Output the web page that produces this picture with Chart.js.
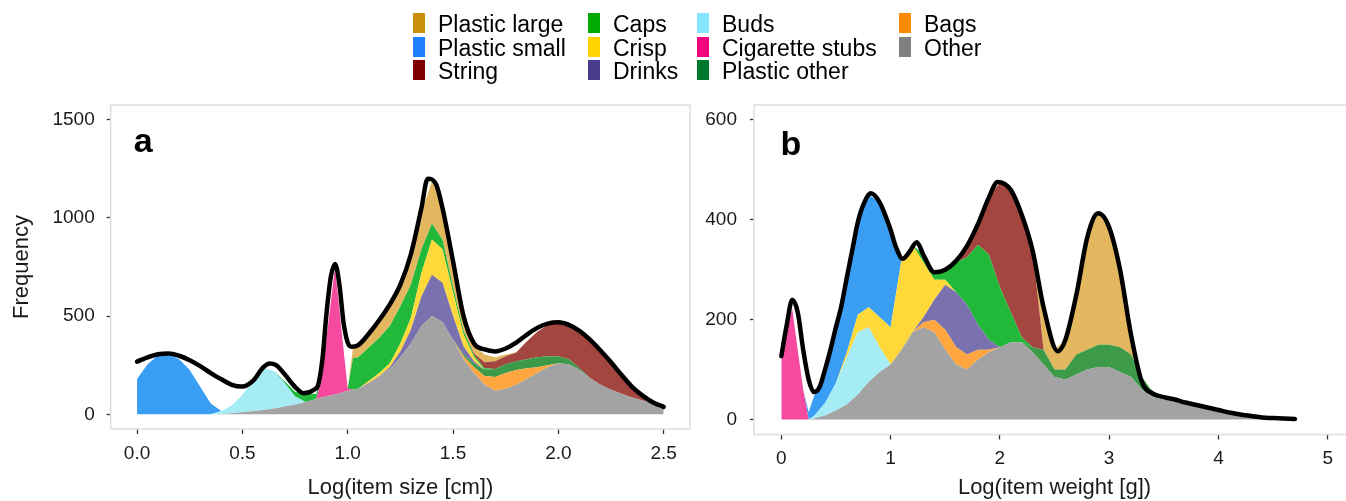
<!DOCTYPE html>
<html>
<head>
<meta charset="utf-8">
<script src="https://cdn.jsdelivr.net/npm/chart.js@4.4.1/dist/chart.umd.min.js"></script>
<style>
  body { margin: 0; background: #fff; }
  #page { position: relative; width: 1346px; height: 501px; overflow: hidden; background: #fff; }
  canvas { position: absolute; top: 75px; }
  #chartA { left: 0; }
  #chartB { left: 700px; }
  #legend {
    position: absolute; left: 413px; top: 11px;
    display: grid; grid-template-columns: 175px 109px 202px auto;
    grid-template-rows: repeat(3, 23.5px); grid-auto-flow: column;
    font-family: "Liberation Sans", Arial, Helvetica, sans-serif; font-size: 23px; color: #000;
  }
  .item { position: relative; height: 23.5px; white-space: nowrap; }
  .key { position: absolute; left: 0; top: 2px; width: 12px; height: 20px; }
  .lbl { position: absolute; left: 25px; top: 2px; line-height: 22px; }
</style>
</head>
<body>
<div id="page">
  <canvas id="chartA" width="700" height="426"></canvas>
  <canvas id="chartB" width="660" height="426"></canvas>
  <div id="legend"></div>
</div>
<script>
// legend (column by column, as in the figure)
const legendNames = ['Plastic large', 'Plastic small', 'String', 'Caps', 'Crisp', 'Drinks',
                     'Buds', 'Cigarette stubs', 'Plastic other', 'Bags', 'Other'];
const legendColors = ['#C8900A', '#1E7FFF', '#800000', '#00AA00', '#FFD200', '#483D8B',
                      '#87E6FF', '#F0047F', '#007A2E', '#FF8A00', '#808080'];
const fillColors = ['#E3B660', '#3A9EF5', '#A3463F', '#22B83A', '#FFD93A', '#7A72AE',
                    '#A5ECF5', '#F54A9E', '#3C9A48', '#FFA640', '#A3A3A3'];

// ---- panel a: item size ----
const xA = [0, 0.05, 0.1, 0.15, 0.2, 0.25, 0.3, 0.35, 0.4, 0.45, 0.5, 0.55, 0.6, 0.65, 0.7, 0.75, 0.8,
            0.825, 0.85, 0.875, 0.9, 0.94, 0.97, 1.0, 1.025, 1.05,
            1.1, 1.15, 1.2, 1.25, 1.3, 1.35, 1.4, 1.45, 1.5, 1.55, 1.6, 1.65, 1.7, 1.75, 1.8, 1.85, 1.9, 1.95,
            2.0, 2.05, 2.1, 2.15, 2.2, 2.25, 2.3, 2.35, 2.4, 2.45, 2.5];
const otherA = [0, 0, 0, 0, 0, 0, 0, 0, 2, 5, 10, 15, 22, 30, 40, 50, 62,
                70, 78, 85, 92, 101, 110, 120, 125, 130,
                160, 195, 230, 290, 360, 450, 500, 470, 380, 280, 210, 150, 120, 130, 150, 180, 210, 240,
                260, 255, 225, 185, 150, 125, 105, 85, 70, 55, 45];
const bagsA = [0, 0, 0, 0, 0, 0, 0, 0, 0, 0, 0, 0, 0, 0, 0, 0, 0,
               0, 0, 0, 0, 0, 0, 0, 0, 0,
               0, 0, 0, 0, 0, 0, 0, 0, 0, 15, 30, 45, 70, 80, 75, 55, 30, 10,
               0, 0, 0, 0, 0, 0, 0, 0, 0, 0, 0];
const plasticOtherA = [0, 0, 0, 0, 0, 0, 0, 0, 0, 0, 0, 0, 0, 0, 0, 0, 0,
                       0, 0, 0, 0, 0, 0, 0, 0, 0,
                       0, 0, 0, 0, 0, 0, 0, 0, 0, 10, 20, 30, 40, 45, 45, 45, 50, 45,
                       35, 25, 10, 0, 0, 0, 0, 0, 0, 0, 0];
const cigaretteA = [0, 0, 0, 0, 0, 0, 0, 0, 0, 0, 0, 0, 0, 0, 0, 0, 0,
                    0, 0, 85, 300, 650, 326, 12, 0, 0,
                    0, 0, 0, 0, 0, 0, 0, 0, 0, 0, 0, 0, 0, 0, 0, 0, 0, 0,
                    0, 0, 0, 0, 0, 0, 0, 0, 0, 0, 0];
const budsA = [0, 0, 0, 0, 0, 0, 0, 0, 15, 40, 90, 150, 215, 190, 120, 40, 0,
               0, 0, 0, 0, 0, 0, 0, 0, 0,
               0, 0, 0, 0, 0, 0, 0, 0, 0, 0, 0, 0, 0, 0, 0, 0, 0, 0,
               0, 0, 0, 0, 0, 0, 0, 0, 0, 0, 0];
const drinksA = [0, 0, 0, 0, 0, 0, 0, 0, 0, 0, 0, 0, 0, 0, 0, 0, 0,
                 0, 0, 0, 0, 0, 0, 0, 0, 0,
                 0, 0, 10, 30, 70, 150, 210, 200, 120, 40, 10, 0, 0, 0, 0, 0, 0, 0,
                 0, 0, 0, 0, 0, 0, 0, 0, 0, 0, 0];
const crispA = [0, 0, 0, 0, 0, 0, 0, 0, 0, 0, 0, 0, 0, 0, 0, 0, 0,
                0, 0, 0, 0, 0, 0, 0, 0, 0,
                10, 15, 20, 40, 60, 120, 180, 170, 120, 60, 20, 0, 0, 0, 0, 0, 0, 0,
                0, 0, 0, 0, 0, 0, 0, 0, 0, 0, 0];
const capsA = [0, 0, 0, 0, 0, 0, 0, 0, 0, 0, 0, 0, 0, 0, 10, 25, 40,
               35, 25, 0, 0, 0, 0, 0, 160, 160,
               170, 180, 190, 190, 170, 120, 80, 50, 30, 20, 10, 10, 0, 0, 0, 0, 0, 0,
               0, 0, 0, 0, 0, 0, 0, 0, 0, 0, 0];
const stringA = [0, 0, 0, 0, 0, 0, 0, 0, 0, 0, 0, 0, 0, 0, 0, 0, 0,
                 0, 0, 0, 0, 0, 0, 0, 0, 0,
                 0, 0, 0, 0, 0, 0, 0, 0, 0, 0, 10, 30, 40, 40, 45, 90, 130, 160,
                 175, 175, 185, 185, 170, 140, 95, 55, 25, 10, 0];
const plasticSmallA = [180, 255, 300, 305, 280, 225, 140, 55, 0, 0, 0, 0, 0, 0, 0, 0, 0,
                       0, 0, 0, 0, 0, 0, 0, 0, 0,
                       0, 0, 0, 0, 0, 0, 0, 0, 0, 0, 0, 0, 0, 0, 0, 0, 0, 0,
                       0, 0, 0, 0, 0, 0, 0, 0, 0, 0, 0];
const plasticLargeA = [0, 0, 0, 0, 0, 0, 0, 0, 0, 0, 0, 0, 0, 0, 0, 0, 0,
                       0, 0, 0, 0, 0, 0, 0, 50, 50,
                       70, 90, 110, 110, 150, 180, 220, 190, 150, 90, 40, 40, 20, 10, 0, 0, 0, 0,
                       0, 0, 0, 0, 0, 0, 0, 0, 0, 0, 0];
const totalXA = [0, 0.05, 0.1, 0.15, 0.2, 0.25, 0.3, 0.35, 0.4, 0.45, 0.5, 0.55, 0.6, 0.63, 0.66, 0.7, 0.75, 0.79,
                 0.84, 0.86, 0.88, 0.9, 0.92, 0.94, 0.96, 0.98, 1.0, 1.02, 1.05,
                 1.1, 1.15, 1.2, 1.25, 1.3, 1.35, 1.38, 1.42, 1.45, 1.5, 1.55, 1.6, 1.65, 1.7, 1.75, 1.8, 1.85,
                 1.9, 1.95, 2.0, 2.05, 2.1, 2.15, 2.2, 2.25, 2.3, 2.35, 2.4, 2.45, 2.5];
const totalA = [268, 290, 306, 310, 298, 275, 245, 210, 178, 150, 141, 170, 240, 259, 250, 205, 140, 107,
                125, 150, 280, 520, 700, 765, 666, 470, 365, 344, 352,
                410, 480, 560, 660, 815, 1050, 1200, 1170, 1050, 780, 500, 360, 330, 320, 335, 365, 405,
                440, 462, 468, 455, 425, 380, 325, 265, 200, 140, 95, 60, 38];
const xTicksA = [0, 0.5, 1, 1.5, 2, 2.5];
const xTickLabelsA = ['0.0', '0.5', '1.0', '1.5', '2.0', '2.5'];
const yTicksA = [0, 500, 1000, 1500];
const yTickLabelsA = ['0', '500', '1000', '1500'];

// ---- panel b: item weight ----
const xB = [0, 0.05, 0.1, 0.15, 0.2, 0.25, 0.3,
            0.4, 0.5, 0.6, 0.7, 0.8, 0.9, 1.0, 1.1, 1.2, 1.3,
            1.4, 1.5, 1.6, 1.7, 1.8, 1.9, 2.0, 2.1, 2.2, 2.3,
            2.4, 2.5, 2.6, 2.7, 2.8, 2.9, 3.0, 3.1, 3.2, 3.3,
            3.4, 3.5, 3.6, 3.7, 3.8, 3.9, 4.0, 4.1, 4.2, 4.3,
            4.4, 4.5, 4.6, 4.7];
const otherB = [0, 0, 0, 0, 0, 0, 2,
                8, 18, 30, 50, 75, 95, 110, 140, 175, 185,
                175, 140, 110, 100, 120, 135, 145, 155, 155, 135,
                110, 85, 80, 90, 100, 105, 105, 95, 85, 60,
                45, 40, 36, 32, 28, 24, 20, 15, 10, 5,
                2, 0, 0, 0];
const bagsB = [0, 0, 0, 0, 0, 0, 0,
               0, 0, 0, 0, 0, 0, 0, 0, 0, 10,
               25, 40, 35, 30, 20, 5, 0, 0, 0, 0,
               0, 0, 0, 0, 0, 0, 0, 0, 0, 0,
               0, 0, 0, 0, 0, 0, 0, 0, 0, 0,
               0, 0, 0, 0];
const plasticOtherB = [0, 0, 0, 0, 0, 0, 0,
                       0, 0, 0, 0, 0, 0, 0, 0, 0, 0,
                       0, 0, 0, 0, 0, 0, 0, 0, 0, 10,
                       30, 15, 20, 40, 40, 45, 45, 50, 45, 25,
                       10, 0, 0, 0, 0, 0, 0, 0, 0, 0,
                       0, 0, 0, 0];
const cigaretteB = [120, 185, 222, 140, 60, 0, 0,
                    0, 0, 0, 0, 0, 0, 0, 0, 0, 0,
                    0, 0, 0, 0, 0, 0, 0, 0, 0, 0,
                    0, 0, 0, 0, 0, 0, 0, 0, 0, 0,
                    0, 0, 0, 0, 0, 0, 0, 0, 0, 0,
                    0, 0, 0, 0];
const budsB = [0, 0, 0, 0, 0, 0, 5,
               25, 55, 95, 125, 110, 50, 0, 0, 0, 0,
               0, 0, 0, 0, 0, 0, 0, 0, 0, 0,
               0, 0, 0, 0, 0, 0, 0, 0, 0, 0,
               0, 0, 0, 0, 0, 0, 0, 0, 0, 0,
               0, 0, 0, 0];
const drinksB = [0, 0, 0, 0, 0, 0, 0,
                 0, 0, 0, 0, 0, 0, 0, 0, 0, 10,
                 40, 90, 110, 100, 50, 20, 0, 0, 0, 0,
                 0, 0, 0, 0, 0, 0, 0, 0, 0, 0,
                 0, 0, 0, 0, 0, 0, 0, 0, 0, 0,
                 0, 0, 0, 0];
const crispB = [0, 0, 0, 0, 0, 0, 0,
                0, 0, 10, 35, 40, 60, 75, 180, 175, 110,
                40, 10, 0, 0, 0, 0, 0, 0, 0, 0,
                0, 0, 0, 0, 0, 0, 0, 0, 0, 0,
                0, 0, 0, 0, 0, 0, 0, 0, 0, 0,
                0, 0, 0, 0];
const capsB = [0, 0, 0, 0, 0, 0, 0,
               0, 0, 0, 0, 0, 0, 0, 0, 0, 15,
               15, 20, 60, 95, 160, 170, 120, 60, 10, 0,
               0, 0, 0, 0, 0, 0, 0, 0, 0, 0,
               0, 0, 0, 0, 0, 0, 0, 0, 0, 0,
               0, 0, 0, 0];
const stringB = [0, 0, 0, 0, 0, 0, 0,
                 0, 0, 0, 0, 0, 0, 0, 0, 0, 0,
                 0, 0, 0, 20, 40, 115, 210, 245, 250, 195,
                 0, 0, 0, 0, 0, 0, 0, 0, 0, 0,
                 0, 0, 0, 0, 0, 0, 0, 0, 0, 0,
                 0, 0, 0, 0];
const plasticSmallB = [0, 0, 0, 0, 0, 15, 40,
                       60, 115, 150, 185, 225, 230, 190, 0, 0, 0,
                       0, 0, 0, 0, 0, 0, 0, 0, 0, 0,
                       0, 0, 0, 0, 0, 0, 0, 0, 0, 0,
                       0, 0, 0, 0, 0, 0, 0, 0, 0, 0,
                       0, 0, 0, 0];
const plasticLargeB = [0, 0, 0, 0, 0, 0, 0,
                       0, 0, 0, 0, 0, 0, 0, 0, 0, 0,
                       0, 0, 0, 0, 0, 0, 0, 0, 0, 0,
                       90, 40, 60, 120, 225, 263, 235, 155, 40, 0,
                       0, 0, 0, 0, 0, 0, 0, 0, 0, 0,
                       0, 0, 0, 0];
const totalXB = [0, 0.05, 0.1, 0.15, 0.2, 0.25, 0.3, 0.35, 0.4, 0.45, 0.5, 0.55, 0.6, 0.65, 0.7, 0.75,
                 0.82, 0.9, 0.95, 1.0, 1.05, 1.11, 1.17, 1.24, 1.3,
                 1.4, 1.5, 1.6, 1.7, 1.8, 1.9, 1.98, 2.1, 2.2, 2.3, 2.4, 2.53,
                 2.6, 2.7, 2.8, 2.9, 3.0, 3.1, 3.2, 3.3, 3.4, 3.5,
                 3.6, 3.7, 3.8, 3.9, 4.0, 4.1, 4.2, 4.3, 4.4, 4.5, 4.6, 4.7];
const totalB = [127, 190, 240, 215, 140, 80, 55, 65, 100, 140, 185, 228, 285, 340, 395, 430,
                453, 435, 410, 380, 345, 322, 335, 355, 330,
                295, 300, 318, 348, 392, 445, 476, 460, 410, 338, 225, 137,
                160, 250, 365, 413, 385, 300, 170, 75, 52, 45,
                40, 34, 29, 24, 19, 14, 10, 7, 4, 3, 2, 1];
const xTicksB = [0, 1, 2, 3, 4, 5];
const xTickLabelsB = ['0', '1', '2', '3', '4', '5'];
const yTicksB = [0, 200, 400, 600];
const yTickLabelsB = ['0', '200', '400', '600'];

const FONT = '"Liberation Sans", Arial, Helvetica, sans-serif';
Chart.defaults.font.family = FONT;

// build the legend
const legendBox = document.getElementById('legend');
legendNames.forEach((name, i) => {
    const item = document.createElement('div');
    item.className = 'item';
    item.innerHTML = `<span class="key" style="background:${legendColors[i]}"></span><span class="lbl">${name}</span>`;
    legendBox.appendChild(item);
});

// light frame round the plot area and the panel letter
const panelFrame = {
    id: 'panelFrame',
    beforeDatasetsDraw(chart, args, opts) {
        const { ctx, chartArea: a } = chart;
        ctx.save();
        ctx.strokeStyle = '#dedede';
        ctx.lineWidth = 1.5;
        ctx.strokeRect(a.left, a.top, a.right - a.left, a.bottom - a.top);
        ctx.restore();
    },
    afterDraw(chart, args, opts) {
        const { ctx, chartArea: a } = chart;
        ctx.save();
        ctx.fillStyle = '#000';
        ctx.font = 'bold 34px ' + FONT;
        ctx.textBaseline = 'alphabetic';
        ctx.fillText(opts.text, a.left + opts.dx, a.top + opts.dy);
        ctx.restore();
    }
};

const makeChart = (canvasId, p) => {
    // stacking goes bottom -> top, i.e. reverse of the legend order
    const order = legendNames.map((n, i) => i).reverse();
    const areas = order.map((i, k) => ({
        label: legendNames[i],
        data: p.xs.map((x, j) => ({ x: x, y: p.series[i][j] })),
        backgroundColor: fillColors[i],
        borderWidth: 0,
        pointRadius: 0,
        tension: 0,
        fill: k === 0 ? 'origin' : '-1',
        stack: 'items'
    }));
    const total = {
        label: 'total',
        data: p.totalX.map((x, j) => ({ x: x, y: p.total[j] })),
        borderColor: '#000',
        borderWidth: 4.5,
        borderCapStyle: 'round',
        borderJoinStyle: 'round',
        pointRadius: 0,
        fill: false,
        cubicInterpolationMode: 'monotone',
        stack: 'total'
    };
    const tickGrid = { drawOnChartArea: false, tickLength: 4, tickColor: '#333', tickWidth: 1.3 };
    return new Chart(document.getElementById(canvasId), {
        type: 'line',
        data: { datasets: [total, ...areas] },
        options: {
            responsive: false,
            animation: false,
            events: [],
            layout: { padding: { top: 30, left: 0, right: p.padRight, bottom: 0 } },
            plugins: {
                legend: { display: false },
                tooltip: { enabled: false },
                panelFrame: { text: p.letter, dx: p.letterDx, dy: p.letterDy }
            },
            scales: {
                x: {
                    type: 'linear',
                    min: p.xMin, max: p.xMax,
                    afterBuildTicks: s => { s.ticks = p.xTicks.map(v => ({ value: v })); },
                    afterFit: s => { s.height = p.xAxisHeight; },
                    grid: Object.assign({}, tickGrid, { tickLength: 5 }),
                    border: { display: false },
                    ticks: {
                        autoSkip: false, maxRotation: 0, padding: 8,
                        color: '#1a1a1a', font: { size: 19 },
                        callback: (v, i) => p.xTickLabels[i]
                    },
                    title: {
                        display: true, text: p.xTitle, color: '#1a1a1a',
                        font: { size: 22 }, padding: { top: 0, bottom: 0 }
                    }
                },
                y: {
                    type: 'linear',
                    stacked: true,
                    min: p.yMin, max: p.yMax,
                    afterBuildTicks: s => { s.ticks = p.yTicks.map(v => ({ value: v })); },
                    afterFit: s => { s.width = p.yAxisWidth; },
                    grid: tickGrid,
                    border: { display: false },
                    ticks: {
                        padding: p.yPad, color: '#1a1a1a', font: { size: 19 },
                        callback: (v, i) => p.yTickLabels[i]
                    },
                    title: {
                        display: !!p.yTitle, text: p.yTitle, color: '#1a1a1a',
                        font: { size: 22 }, padding: { top: 9, bottom: 0 }
                    }
                }
            }
        },
        plugins: [panelFrame]
    });
};

// series in legend order for each panel
const seriesA = [plasticLargeA, plasticSmallA, stringA, capsA, crispA, drinksA, budsA, cigaretteA, plasticOtherA, bagsA, otherA];
const seriesB = [plasticLargeB, plasticSmallB, stringB, capsB, crispB, drinksB, budsB, cigaretteB, plasticOtherB, bagsB, otherB];

makeChart('chartA', {
    xs: xA, series: seriesA, totalX: totalXA, total: totalA,
    xMin: -0.125, xMax: 2.625, yMin: -75, yMax: 1575,
    xTicks: xTicksA, xTickLabels: xTickLabelsA, yTicks: yTicksA, yTickLabels: yTickLabelsA,
    xTitle: 'Log(item size [cm])', yTitle: 'Frequency',
    yAxisWidth: 110.7, yPad: 12, padRight: 10, xAxisHeight: 72,
    letter: 'a', letterDx: 23, letterDy: 47
});

makeChart('chartB', {
    xs: xB, series: seriesB, totalX: totalXB, total: totalB,
    xMin: -0.25, xMax: 5.25, yMin: -30, yMax: 630,
    xTicks: xTicksB, xTickLabels: xTickLabelsB, yTicks: yTicksB, yTickLabels: yTickLabelsB,
    xTitle: 'Log(item weight [g])', yTitle: '',
    yAxisWidth: 54, yPad: 13, padRight: 5, xAxisHeight: 66.5,
    letter: 'b', letterDx: 26.5, letterDy: 50
});
</script>
</body>
</html>
